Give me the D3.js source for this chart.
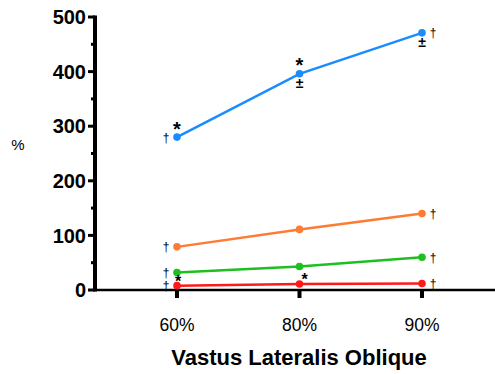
<!DOCTYPE html>
<html>
<head>
<meta charset="utf-8">
<script src="https://cdn.jsdelivr.net/npm/d3@7"></script>
<style>
  html, body { margin: 0; padding: 0; background: #fff; }
  svg { display: block; font-family: Arial, "Liberation Sans", sans-serif; }
</style>
</head>
<body>
<svg id="chart" width="495" height="374"></svg>
<script>
// Categories along the x axis
const categories = ["60%", "80%", "90%"];
// Series values (%), one array per line
const blueValues   = [280, 396, 471];
const orangeValues = [79, 111, 140];
const greenValues  = [32, 43, 60];
const redValues    = [8, 11, 12];
// Y tick values
const yTicks = [0, 100, 200, 300, 400, 500];
const yMinorTicks = [50, 150, 250, 350, 450];

// Significance markers: [category index, symbol, position]
const blueMarks   = [[0, "*", "above"], [1, "*", "above"], [1, "±", "below"], [2, "±", "below"],
                     [0, "†", "left"], [2, "†", "right"]];
const orangeMarks = [[0, "†", "left"], [2, "†", "right"]];
const greenMarks  = [[0, "†", "left"], [2, "†", "right"]];
const redMarks    = [[0, "*", "above"], [1, "*", "above"], [0, "†", "left"], [2, "†", "right"]];

const svg = d3.select("#chart");
const plot = { left: 95, right: 495, top: 17, bottom: 290 };

// Per-series drawing styles; the red line sits on the axis, so its stars are tucked in tighter
const series = [
  { values: blueValues,   color: "#1a8cff", marks: blueMarks,   star: { size: 20, dy: -1.5, dx: [0, 0, 0] } },
  { values: orangeValues, color: "#ff7a33", marks: orangeMarks, star: { size: 20, dy: -1.5, dx: [0, 0, 0] } },
  { values: greenValues,  color: "#1fbf1f", marks: greenMarks,  star: { size: 20, dy: -1.5, dx: [0, 0, 0] } },
  { values: redValues,    color: "#ff1a1a", marks: redMarks,    star: { size: 16, dy: 1, dx: [1, 5, 0] } }
];

const x = d3.scalePoint().domain(categories).range([177, 422]);
const y = d3.scaleLinear().domain([0, 500]).range([plot.bottom, plot.top]);

// Y axis
const yAxis = svg.append("g").attr("transform", `translate(${plot.left},0)`);
yAxis.append("line").attr("x1", 0).attr("x2", 0).attr("y1", y(500) - 1.5).attr("y2", y(0) + 1.5)
  .attr("stroke", "#000").attr("stroke-width", 4);
yAxis.selectAll("line.major").data(yTicks).join("line").attr("class", "major")
  .attr("x1", -7).attr("x2", 0).attr("y1", d => y(d)).attr("y2", d => y(d))
  .attr("stroke", "#000").attr("stroke-width", 3);
yAxis.selectAll("line.minor").data(yMinorTicks).join("line").attr("class", "minor")
  .attr("x1", -4).attr("x2", 0).attr("y1", d => y(d)).attr("y2", d => y(d))
  .attr("stroke", "#000").attr("stroke-width", 3);
yAxis.selectAll("text").data(yTicks).join("text")
  .attr("x", -9).attr("y", d => y(d)).attr("dy", "0.36em")
  .attr("text-anchor", "end").attr("font-size", 20).attr("font-weight", "bold")
  .attr("fill", "#000")
  .text(d => d);

// X axis
const xAxis = svg.append("g");
xAxis.append("line").attr("x1", plot.left).attr("x2", plot.right).attr("y1", plot.bottom).attr("y2", plot.bottom)
  .attr("stroke", "#000").attr("stroke-width", 2.5);
xAxis.selectAll("line.tick").data(categories).join("line").attr("class", "tick")
  .attr("x1", d => x(d)).attr("x2", d => x(d)).attr("y1", plot.bottom).attr("y2", plot.bottom + 8)
  .attr("stroke", "#000").attr("stroke-width", 4);
xAxis.selectAll("text").data(categories).join("text")
  .attr("x", d => x(d)).attr("y", 331)
  .attr("text-anchor", "middle").attr("font-size", 17.5).attr("fill", "#000")
  .text(d => d);

// Axis titles
svg.append("text").attr("x", 299).attr("y", 365).attr("text-anchor", "middle")
  .attr("font-size", 22).attr("font-weight", "bold").attr("fill", "#000")
  .text("Vastus Lateralis Oblique");
svg.append("text").attr("x", 18).attr("y", 150).attr("text-anchor", "middle")
  .attr("font-size", 15).attr("fill", "#000").text("%");

// Lines, points and significance markers
const line = d3.line().x((d, i) => x(categories[i])).y(d => y(d));
series.forEach(s => {
  const g = svg.append("g");
  g.append("path").datum(s.values).attr("d", line)
    .attr("fill", "none").attr("stroke", s.color).attr("stroke-width", 2.5);
  g.selectAll("circle").data(s.values).join("circle")
    .attr("cx", (d, i) => x(categories[i])).attr("cy", d => y(d)).attr("r", 3.8)
    .attr("fill", s.color);

  const markStyle = {
    "*": { size: s.star.size, weight: "bold", dy: s.star.dy },
    "±": { size: 14, weight: "bold", dy: 14 },
    "†": { size: 12, weight: "normal", dy: 4.5 }
  };
  g.selectAll("text").data(s.marks).join("text")
    .attr("x", m => {
      const cx = x(categories[m[0]]);
      if (m[2] === "left") return cx - 11;
      if (m[2] === "right") return cx + 11;
      if (m[1] === "*") return cx + s.star.dx[m[0]];
      return cx;
    })
    .attr("y", m => y(s.values[m[0]]) + markStyle[m[1]].dy)
    .attr("text-anchor", "middle")
    .attr("font-size", m => markStyle[m[1]].size)
    .attr("font-weight", m => markStyle[m[1]].weight)
    .attr("fill", "#000")
    .style("font-family", "'Liberation Sans', Arial, sans-serif")
    .text(m => m[1]);
});
</script>
</body>
</html>
